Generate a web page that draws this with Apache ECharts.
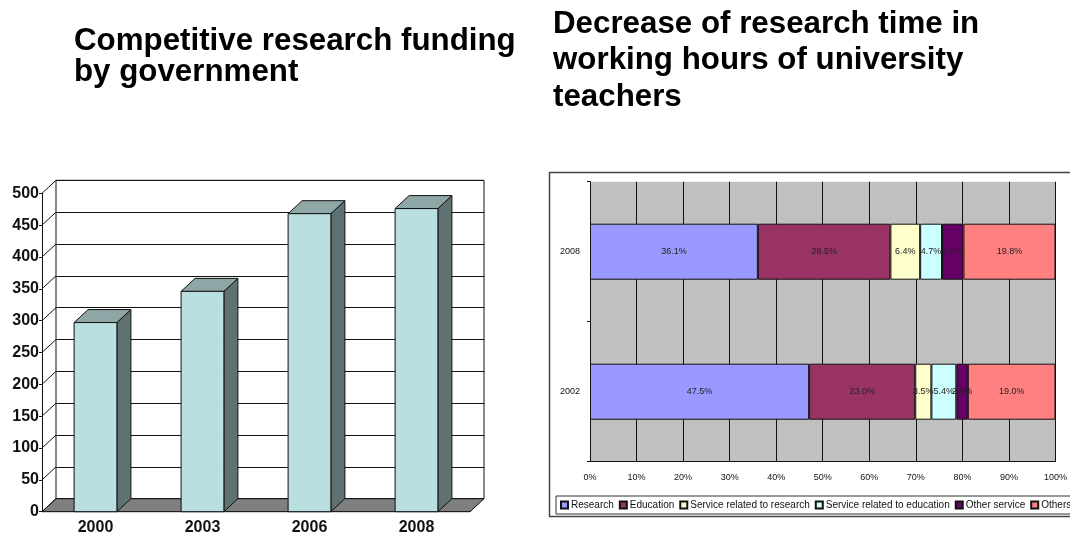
<!DOCTYPE html>
<html><head><meta charset="utf-8">
<script src="https://cdn.jsdelivr.net/npm/echarts@6/dist/echarts.min.js"></script>
<style>html,body{margin:0;padding:0;background:#fff}#c{width:1070px;height:537px}</style>
</head><body><div id="c"></div>
<script>
// ---- Left chart data ----
var years = ['2000', '2003', '2006', '2008'];
var funding = [297, 346, 468, 476];
var fundingTicks = [0, 50, 100, 150, 200, 250, 300, 350, 400, 450, 500];

// ---- Right chart data ----
var surveyYears = ['2002', '2008'];
var activityNames = ['Research', 'Education', 'Service related to research', 'Service related to education', 'Other service', 'Others'];
var research = [47.5, 36.1];
var education = [23.0, 28.5];
var serviceResearch = [3.5, 6.4];
var serviceEducation = [5.4, 4.7];
var otherService = [2.5, 4.6];
var others = [19.0, 19.8];
var pctTicks = ['0%', '10%', '20%', '30%', '40%', '50%', '60%', '70%', '80%', '90%', '100%'];

var activitySeries = [research, education, serviceResearch, serviceEducation, otherService, others];
var activityColors = ['#9999ff', '#993366', '#ffffcc', '#ccffff', '#660066', '#ff8080'];
var totals = surveyYears.map(function (_, i) {
  return activitySeries.reduce(function (s, arr) { return s + arr[i]; }, 0);
});

var DX = 14, DY = -13;
var axFont = '"Liberation Sans", Arial, sans-serif';
var titleFont = 'bold 31.3px "Liberation Sans", Arial, sans-serif';

var chart = echarts.init(document.getElementById('c'));

function barItem(params, api) {
  var top = api.coord([api.value(0), api.value(1)]);
  var bot = api.coord([api.value(0), 0]);
  var w = api.size([1, 0])[0] * 0.4;
  var xl = top[0] - w / 2, xr = top[0] + w / 2;
  var st = { stroke: '#111', lineWidth: 1 };
  return {
    type: 'group',
    children: [
      { type: 'polygon', shape: { points: [[xr, top[1]], [xr + DX, top[1] + DY], [xr + DX, bot[1] + DY], [xr, bot[1]]] },
        style: Object.assign({ fill: '#5f7171' }, st) },
      { type: 'polygon', shape: { points: [[xl, top[1]], [xr, top[1]], [xr + DX, top[1] + DY], [xl + DX, top[1] + DY]] },
        style: Object.assign({ fill: '#8ea6a6' }, st) },
      { type: 'rect', shape: { x: xl, y: top[1], width: w, height: bot[1] - top[1] },
        style: Object.assign({ fill: '#badfe1' }, st) }
    ]
  };
}

var rightSeries = activityNames.map(function (name, k) {
  return {
    name: name,
    type: 'bar',
    stack: 'total',
    xAxisIndex: 2, yAxisIndex: 2,
    barCategoryGap: '60%',
    itemStyle: { color: activityColors[k], borderColor: '#111', borderWidth: 1 },
    label: {
      show: true, position: 'inside', fontSize: 9, color: '#222',
      fontFamily: axFont,
      formatter: function (p) { return activitySeries[k][p.dataIndex].toFixed(1) + '%'; }
    },
    data: activitySeries[k].map(function (v, i) { return v / totals[i] * 100; })
  };
});

chart.setOption({
  animation: false,
  backgroundColor: '#fff',
  graphic: [
    { type: 'text', x: 74, y: 41, style: { text: 'Competitive research funding', font: titleFont, fill: '#000', verticalAlign: 'middle' } },
    { type: 'text', x: 74, y: 72.5, style: { text: 'by government', font: titleFont, fill: '#000', verticalAlign: 'middle' } },
    { type: 'text', x: 553, y: 24, style: { text: 'Decrease of research time in', font: titleFont, fill: '#000', verticalAlign: 'middle' } },
    { type: 'text', x: 553, y: 60.5, style: { text: 'working hours of university', font: titleFont, fill: '#000', verticalAlign: 'middle' } },
    { type: 'text', x: 553, y: 97, style: { text: 'teachers', font: titleFont, fill: '#000', verticalAlign: 'middle' } },
    { type: 'rect', shape: { x: 549.5, y: 172.5, width: 560, height: 344 }, style: { fill: 'none', stroke: '#444', lineWidth: 1.5 }, z: -10 }
  ],
  grid: [
    { left: 42, top: 193.3, width: 428, height: 318.4 },
    { left: 42 + DX, top: 193.3 + DY, width: 428, height: 318.4, show: true, backgroundColor: '#fff', borderColor: '#111', borderWidth: 1 },
    { left: 590, top: 181.7, width: 466, height: 280, show: true, backgroundColor: '#c0c0c0', borderWidth: 0 }
  ],
  xAxis: [
    { type: 'category', gridIndex: 0, data: years,
      axisLine: { show: true, lineStyle: { color: '#111', width: 1 } },
      axisTick: { show: true, inside: true, length: 4, lineStyle: { color: '#111' } },
      axisLabel: { fontFamily: axFont, fontWeight: 'bold', fontSize: 16, color: '#111', margin: 8 } },
    { type: 'value', gridIndex: 1, min: 0, max: 1, show: false },
    { type: 'value', gridIndex: 2, min: 0, max: 100, interval: 10,
      axisLine: { show: true, lineStyle: { color: '#111', width: 1 } },
      axisTick: { show: false },
      splitLine: { show: true, lineStyle: { color: '#111', width: 1 } },
      axisLabel: { fontSize: 9, color: '#111', margin: 11, fontFamily: axFont,
        formatter: function (v) { return pctTicks[Math.round(v / 10)]; } } }
  ],
  yAxis: [
    { type: 'value', gridIndex: 0, min: 0, max: 500, interval: 50,
      axisLine: { show: true, lineStyle: { color: '#111', width: 1 } },
      axisTick: { show: true, length: 3, lineStyle: { color: '#111' } },
      splitLine: { show: false },
      axisLabel: { fontFamily: axFont, fontWeight: 'bold', fontSize: 16, color: '#111', margin: 3 } },
    { type: 'value', gridIndex: 1, min: 0, max: 500, interval: 50,
      axisLine: { show: false }, axisTick: { show: false }, axisLabel: { show: false },
      splitLine: { show: true, lineStyle: { color: '#111', width: 1 } } },
    { type: 'category', gridIndex: 2, data: surveyYears,
      axisLine: { show: true, lineStyle: { color: '#111', width: 1 } },
      axisTick: { show: true, length: 3, lineStyle: { color: '#111' } },
      axisLabel: { fontSize: 9, color: '#111', margin: 10, fontFamily: axFont } }
  ],
  legend: {
    data: activityNames,
    left: 556, top: 496, width: 600,
    orient: 'horizontal',
    padding: [4, 4, 4, 4],
    borderColor: '#333', borderWidth: 1,
    itemWidth: 7, itemHeight: 7, itemGap: 5,
    icon: 'rect',
    textStyle: { fontSize: 10, color: '#111', padding: [0, 0, 0, -2], fontFamily: axFont }
  },
  series: [
    { type: 'custom', xAxisIndex: 0, yAxisIndex: 0, z: 1, silent: true,
      data: [[0, 0]],
      renderItem: function (params, api) {
        var cs = params.coordSys;
        var yb = cs.y + cs.height;
        return { type: 'polygon', shape: { points: [[cs.x, yb], [cs.x + cs.width, yb], [cs.x + cs.width + DX, yb + DY], [cs.x + DX, yb + DY]] },
          style: { fill: '#7f7f7f', stroke: '#111', lineWidth: 1 } };
      } },
    { type: 'custom', xAxisIndex: 0, yAxisIndex: 0, z: 2, silent: true,
      data: fundingTicks.map(function (t) { return [0, t]; }),
      renderItem: function (params, api) {
        var cs = params.coordSys;
        var p = api.coord([0, api.value(1)]);
        return { type: 'line', shape: { x1: cs.x, y1: p[1], x2: cs.x + DX, y2: p[1] + DY }, style: { stroke: '#111', lineWidth: 1 } };
      } },
    { type: 'custom', xAxisIndex: 0, yAxisIndex: 0, z: 3, silent: true,
      data: years.map(function (y, i) { return [i, funding[i]]; }),
      renderItem: barItem }
  ].concat(rightSeries)
});
</script></body></html>
